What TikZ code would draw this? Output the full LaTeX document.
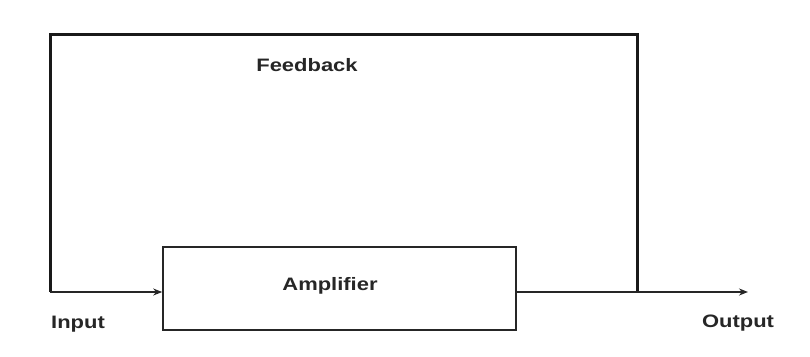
\documentclass[tikz,border=0pt]{standalone}
\usepackage{fontspec}
\newfontfamily\labfont{Liberation Sans Bold}[FakeStretch=1.22]
\usetikzlibrary{arrows.meta}
\begin{document}
\begin{tikzpicture}[x=1pt,y=-1pt,
  lab/.style={font=\labfont\fontsize{18}{20}\selectfont, text=black!85, inner sep=0pt},
  loopline/.style={line width=3pt, draw=black!90},
  sigline/.style={line width=2pt, draw=black!85},
  box/.style={draw=black!85, line width=1.6pt, minimum width=353pt, minimum height=83pt, inner sep=0pt},
  tip/.style={-{Stealth[length=9pt,width=7pt]}}]
\useasboundingbox (0,0) rectangle (810,356);
\node[box] (amp) at (339.5,288.5) {};
\node[lab] (ampl) at (330,286) {Amplifier};
\node[lab] (fb) at (307,65) {Feedback};
\node[lab] (inl) at (78,324) {Input};
\node[lab] (outl) at (738,323) {Output};
\coordinate (in) at (50,292);
\coordinate (tl) at (50,34);
\coordinate (tr) at (637,34);
\coordinate (j) at (637,292);
\coordinate (out) at (748,292);
\draw[loopline, line join=miter] (j) -- (tr) -- (tl) -- (in);
\draw[sigline, tip] (in) -- (amp.west |- in);
\draw[sigline, tip] (amp.east |- out) -- (out);
\end{tikzpicture}
\end{document}
